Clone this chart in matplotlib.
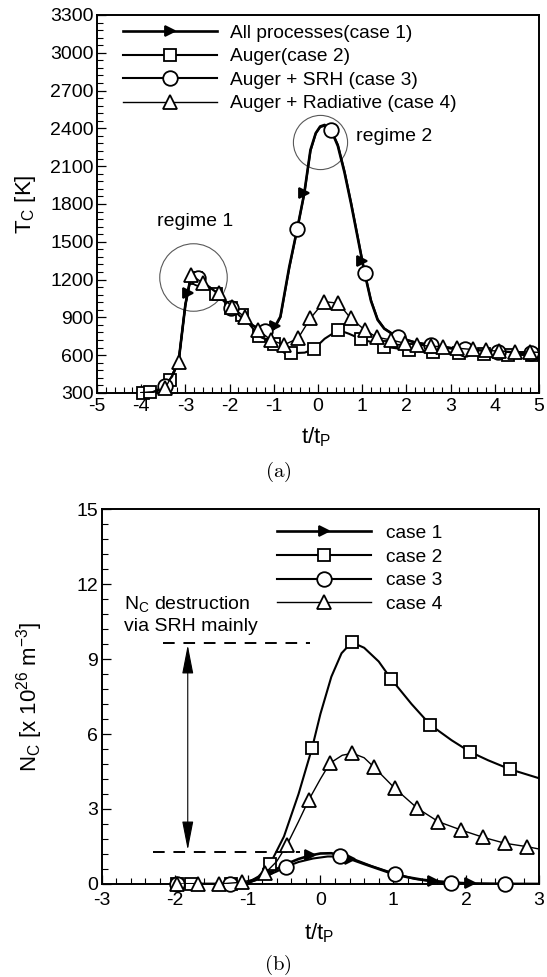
import numpy as np
import matplotlib
matplotlib.use("Agg")
import matplotlib.pyplot as plt
from matplotlib.lines import Line2D

plt.rcParams['font.family'] = ['Liberation Sans', 'DejaVu Sans']
plt.rcParams['axes.unicode_minus'] = False

# ---- panel (a): T_C vs t/t_P ----
# case 1 (all processes)
a1_x = [-4.0, -3.75, -3.5, -3.3, -3.15, -3.0, -2.87, -2.7, -2.5, -2.25, -2.0, -1.75, -1.5, -1.25,
        -1.0, -0.85, -0.65, -0.47, -0.31, -0.17, -0.05, 0.05, 0.15, 0.3, 0.45, 0.6, 0.75, 0.9,
        1.05, 1.2, 1.35, 1.5, 1.8, 2.2, 2.6, 3.0, 3.5, 4.0, 4.5, 5.0]
a1_y = [300, 305, 340, 430, 560, 1000, 1237, 1210, 1150, 1085, 985, 905, 840, 795,
        810, 906, 1300, 1600, 1885, 2229, 2362, 2415, 2427, 2385, 2260, 2050, 1800, 1530,
        1260, 1030, 880, 810, 742, 700, 675, 655, 640, 630, 620, 615]
a1_marks = [-2.95, -0.97, -0.31, 1.0]
# case 3 (Auger + SRH)
a3_x = a1_x
a3_y = [300, 305, 345, 430, 560, 1000, 1230, 1210, 1150, 1085, 985, 905, 840, 792,
        805, 900, 1290, 1600, 1880, 2220, 2360, 2410, 2420, 2385, 2270, 2060, 1810, 1540,
        1265, 1035, 885, 812, 742, 702, 678, 656, 640, 630, 622, 617]
a3_marks = [-3.47, -2.72, -1.96, -1.2, -0.47, 0.3, 1.06, 1.81, 2.56, 3.32, 4.07, 4.83]
# case 2 (Auger)
a2_x = [-4.0, -3.8, -3.5, -3.35, -3.15, -3.0, -2.87, -2.7, -2.5, -2.3, -2.0, -1.72, -1.33, -1.0,
        -0.75, -0.61, -0.3, -0.09, 0.15, 0.46, 0.7, 0.98, 1.25, 1.49, 2.05, 2.6, 3.2, 3.75, 4.3, 5.0]
a2_y = [300, 305, 340, 400, 560, 1000, 1230, 1205, 1150, 1085, 985, 919, 750, 690,
        615, 615, 620, 649, 730, 800, 770, 726, 700, 668, 641, 628, 618, 610, 605, 598]
a2_marks = [-3.95, -3.8, -3.35, -2.75, -2.3, -1.96, -1.72, -1.33, -1.0, -0.61, -0.09, 0.46,
            0.98, 1.49, 2.05, 2.6, 3.2, 3.75, 4.3, 4.85]
# case 4 (Auger + Radiative)
a4_x = [-4.0, -3.65, -3.45, -3.15, -3.0, -2.87, -2.55, -2.24, -1.95, -1.65, -1.36, -1.06, -0.77,
        -0.45, -0.17, 0.14, 0.46, 0.74, 1.06, 1.33, 1.65, 1.97, 2.25, 2.56, 2.84, 3.15, 3.5, 3.8,
        4.1, 4.45, 4.8, 5.0]
a4_y = [300, 310, 340, 548, 1000, 1237, 1160, 1091, 985, 900, 800, 720, 681,
        734, 893, 1025, 1012, 893, 800, 742, 721, 694, 681, 670, 668, 655, 645, 638,
        632, 628, 625, 622]
a4_marks = [-3.47, -3.15, -2.87, -2.6, -2.24, -1.95, -1.65, -1.36, -1.06, -0.77, -0.45, -0.17,
            0.14, 0.46, 0.74, 1.06, 1.33, 1.65, 1.97, 2.25, 2.56, 2.84, 3.15, 3.5, 3.8, 4.1,
            4.45, 4.8]
labels_a = ['All processes(case 1)', 'Auger(case 2)', 'Auger + SRH (case 3)',
            'Auger + Radiative (case 4)']

# ---- panel (b): N_C vs t/t_P ----
b1_x = [-2.0, -1.5, -1.2, -1.0, -0.85, -0.72, -0.6, -0.45, -0.3, -0.14, 0.0, 0.15, 0.3, 0.41,
        0.6, 0.8, 1.0, 1.2, 1.4, 1.55, 1.8, 2.05, 2.5, 3.0]
b1_y = [0, 0, 0, 0.05, 0.2, 0.42, 0.6, 0.82, 1.0, 1.14, 1.22, 1.23, 1.13, 1.0,
        0.8, 0.6, 0.4, 0.27, 0.17, 0.12, 0.06, 0.02, 0.0, 0.0]
b1_marks = [-0.72, -0.14, 0.41, 1.55, 2.05]
b2_x = [-2.0, -1.5, -1.2, -1.0, -0.85, -0.69, -0.5, -0.3, -0.115, 0.0, 0.15, 0.29, 0.43, 0.6,
        0.8, 0.97, 1.25, 1.51, 1.8, 2.05, 2.3, 2.6, 3.0]
b2_y = [0, 0, 0, 0.05, 0.3, 0.8, 1.9, 3.6, 5.43, 6.8, 8.29, 9.23, 9.67, 9.45,
        8.9, 8.2, 7.2, 6.36, 5.75, 5.29, 4.95, 4.59, 4.23]
b2_marks = [-1.97, -1.77, -1.23, -0.69, -0.115, 0.43, 0.97, 1.51, 2.05, 2.6]
b3_x = [-2.0, -1.2, -1.0, -0.8, -0.6, -0.47, -0.3, -0.1, 0.1, 0.27, 0.45, 0.7, 1.03, 1.3, 1.55,
        1.79, 2.2, 3.0]
b3_y = [0, 0, 0.04, 0.25, 0.5, 0.69, 0.88, 1.02, 1.1, 1.1, 1.0, 0.72, 0.4, 0.2, 0.1,
        0.04, 0.01, 0.0]
b3_marks = [-1.97, -1.24, -0.47, 0.27, 1.03, 1.79, 2.53]
b4_x = [-2.0, -1.68, -1.39, -1.08, -0.9, -0.76, -0.6, -0.46, -0.3, -0.16, 0.0, 0.13, 0.3, 0.44,
        0.6, 0.73, 1.02, 1.33, 1.62, 1.93, 2.23, 2.53, 2.84, 3.0]
b4_y = [0, 0, 0, 0.07, 0.2, 0.43, 0.9, 1.56, 2.5, 3.36, 4.2, 4.83, 5.15, 5.23,
        5.05, 4.69, 3.83, 3.03, 2.49, 2.16, 1.87, 1.63, 1.49, 1.40]
b4_marks = [-1.97, -1.68, -1.39, -1.08, -0.76, -0.46, -0.16, 0.13, 0.44, 0.73, 1.02, 1.33,
            1.62, 1.93, 2.23, 2.53, 2.84]
labels_b = ['case 1', 'case 2', 'case 3', 'case 4']
srh_levels = [9.63, 1.29]

# marker styles per case: marker, size, line width
styles = [('>', 6.5, 1.9), ('s', 8, 1.5), ('o', 10.5, 1.5), ('^', 9.5, 1.0)]

fig = plt.figure(figsize=(5.47, 9.77), dpi=100)
ax1 = fig.add_axes([0.1773, 0.5978, 0.808, 0.3869])
ax2 = fig.add_axes([0.186, 0.0952, 0.7995, 0.3838])


def draw_case(ax, x, y, marks, st, z):
    m, ms, lw = st
    ax.plot(x, y, color='k', lw=lw, zorder=z)
    my = np.interp(marks, x, y)
    face = 'k' if m == '>' else 'white'
    ax.plot(marks, my, ls='none', marker=m, ms=ms, mfc=face, mec='k', mew=1.3, zorder=z + 0.5,
            clip_on=False)


def style_axes(ax, xlim, ylim, xmaj, xmin, ymaj, ymin, xpad):
    ax.set_xlim(*xlim)
    ax.set_ylim(*ylim)
    ax.set_xticks(np.arange(xlim[0], xlim[1] + 0.01, xmaj))
    ax.set_xticks(np.arange(xlim[0], xlim[1] + 0.01, xmin), minor=True)
    ax.set_yticks(np.arange(ylim[0], ylim[1] + 0.01, ymaj))
    ax.set_yticks(np.arange(ylim[0], ylim[1] + 0.01, ymin), minor=True)
    ax.tick_params(which='both', direction='in', top=False, right=False, labelsize=14)
    ax.tick_params(which='major', length=6.5, width=0.9)
    ax.tick_params(which='minor', length=4, width=0.8)
    ax.tick_params(axis='x', pad=xpad)
    ax.tick_params(axis='y', pad=2.5)
    for s in ax.spines.values():
        s.set_linewidth(1.4)


cases_a = [(a1_x, a1_y, a1_marks), (a2_x, a2_y, a2_marks), (a3_x, a3_y, a3_marks),
           (a4_x, a4_y, a4_marks)]
for i, (x, y, mk) in enumerate(cases_a):
    draw_case(ax1, x, y, mk, styles[i], 3 + i)
style_axes(ax1, (-5, 5), (300, 3300), 1, 0.2, 300, 60, 3.5)
ax1.set_xticklabels([str(int(v)) for v in np.arange(-5, 6)])
ax1.set_yticklabels([str(int(v)) for v in np.arange(300, 3301, 300)])

# regime circles and labels
ax1.plot(0.045, 2295, 'o', ms=39, mfc='none', mec='0.35', mew=0.8, zorder=2)
ax1.plot(-2.83, 1221, 'o', ms=48.6, mfc='none', mec='0.35', mew=0.8, zorder=2)
ax1.text(0.86, 2332, 'regime 2', fontsize=14, ha='left', va='center')
ax1.text(-2.77, 1660, 'regime 1', fontsize=14, ha='center', va='center')

ax1.set_xlabel(r't/t$_\mathregular{P}$', fontsize=16, va='center')
ax1.xaxis.set_label_coords(0.495, -0.116)
ax1.set_ylabel(r'T$_\mathregular{C}$ [K]', fontsize=16, va='center')
ax1.yaxis.set_label_coords(-0.161, 0.5)

handles = []
for m, ms, lw in styles:
    face = 'k' if m == '>' else 'white'
    handles.append(Line2D([], [], color='k', lw=lw, marker=m, ms=ms, mfc=face, mec='k', mew=1.3))
ax1.legend(handles, labels_a, loc='upper left', bbox_to_anchor=(0.058, 0.975), frameon=False,
           borderpad=0, borderaxespad=0, handlelength=4.9, handletextpad=0.7,
           labelspacing=0.32, fontsize=13.8, numpoints=1)

cases_b = [(b1_x, b1_y, b1_marks), (b2_x, b2_y, b2_marks), (b3_x, b3_y, b3_marks),
           (b4_x, b4_y, b4_marks)]
for i, (x, y, mk) in enumerate(cases_b):
    draw_case(ax2, x, y, mk, styles[i], 3 + i)
style_axes(ax2, (-3, 3), (0, 15), 1, 0.2, 3, 0.6, 5.5)
ax2.set_xticklabels([str(int(v)) for v in np.arange(-3, 4)])
ax2.set_yticklabels([str(int(v)) for v in np.arange(0, 16, 3)])

# SRH annotation
ax2.plot([-2.16, -0.14], [srh_levels[0]] * 2, color='k', lw=1.4, dashes=(6, 4.5))
ax2.plot([-2.30, -0.28], [srh_levels[1]] * 2, color='k', lw=1.4, dashes=(6, 4.5))
ax2.annotate('', xy=(-1.82, srh_levels[0] - 0.07), xytext=(-1.82, srh_levels[1] + 0.07),
             arrowprops=dict(arrowstyle='<|-|>,head_length=1.8,head_width=0.35',
                             mutation_scale=10, color='k', lw=0.8, shrinkA=0, shrinkB=0))
ax2.text(-2.70, 11.16, r'N$_\mathregular{C}$ destruction', fontsize=14, ha='left', va='center')
ax2.text(-2.70, 10.29, 'via SRH mainly', fontsize=14, ha='left', va='center')

ax2.set_xlabel(r't/t$_\mathregular{P}$', fontsize=16, va='center')
ax2.xaxis.set_label_coords(0.497, -0.131)
ax2.set_ylabel(r'N$_\mathregular{C}$ [x 10$^\mathregular{26}$ m$^\mathregular{-3}$]', fontsize=16,
               va='center')
ax2.yaxis.set_label_coords(-0.164, 0.5)
ax2.legend(handles, labels_b, loc='upper left', bbox_to_anchor=(0.401, 0.958), frameon=False,
           borderpad=0, borderaxespad=0, handlelength=4.9, handletextpad=0.8,
           labelspacing=0.32, fontsize=13.8, numpoints=1)

fig.text(278 / 547, 1 - 472 / 977, r'$\mathrm{(a)}$', fontsize=15, ha='center', va='center',
         math_fontfamily='cm')
fig.text(278 / 547, 1 - 965 / 977, r'$\mathrm{(b)}$', fontsize=15, ha='center', va='center',
         math_fontfamily='cm')

fig.savefig('out.png', dpi=100)
